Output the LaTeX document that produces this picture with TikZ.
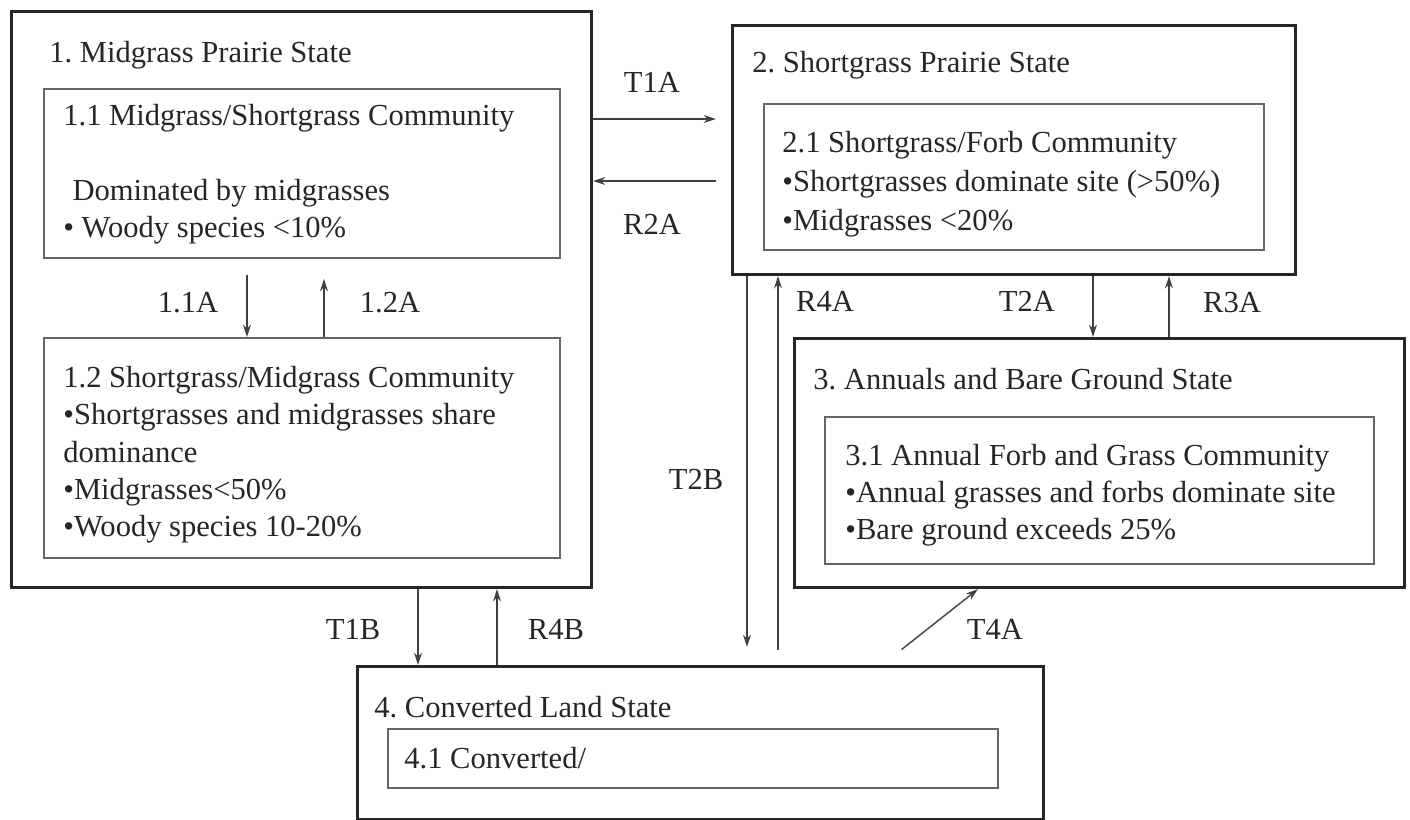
\documentclass[tikz,border=0pt]{standalone}
\usepackage{fontspec}
\setmainfont{Liberation Serif}
\frenchspacing
\usetikzlibrary{arrows.meta}

\begin{document}
\begin{tikzpicture}[x=0.02cm,y=-0.02cm,
			every node/.style={
				font=\fontsize{17.4}{21.3}\selectfont,
				text=black!85
			},
			statebox/.style={draw=black!85,line width=1.8pt,anchor=north west,inner sep=0pt},
			commbox/.style={draw=black!60,line width=1.1pt,anchor=north west,inner sep=0pt},
			txt/.style={anchor=base west,align=left,inner sep=0pt},
			lbl/.style={anchor=base,inner sep=0pt},
			arr/.style={-{Stealth[length=7pt,width=4.5pt]},draw=black!75,line width=0.8pt}]
			
			\useasboundingbox (0,0) rectangle (1410,820);
			
			\node[statebox,minimum width=11.6cm,minimum height=11.52cm](s1) at (10,10){};
			
			\node[commbox,minimum width=10.32cm,minimum height=3.38cm](c11) at (43,88){};
			
			\node[commbox,minimum width=10.32cm,minimum height=4.4cm](c12) at (43,337){};
			
			\node[statebox,minimum width=11.26cm,minimum height=4.98cm](s2) at (731,24){};
			
			\node[commbox,minimum width=10cm,minimum height=2.92cm](c21) at (763,103){};
			
			\node[statebox,minimum width=12.2cm,minimum height=4.98cm](s3) at (793,337){};
			
			\node[commbox,minimum width=10.98cm,minimum height=2.94cm](c31) at (824,416){};
			
			\node[statebox,minimum width=13.72cm,minimum height=3.06cm](s4) at (356,665){};
			
			\node[commbox,minimum width=12.2cm,minimum height=1.18cm](c41) at (387,728){};
			
			\node[txt](t1) at (49,63){1. Midgrass Prairie State};
			
			\node[txt](t11) at (63,238){1.1 Midgrass/Shortgrass Community\\[21.3pt]\hspace{0.3em}Dominated by midgrasses\\• Woody species <10\%};
			
			\node[txt](t12) at (63,537){1.2 Shortgrass/Midgrass Community\\•Shortgrasses and midgrasses share\\dominance\\•Midgrasses<50\%\\•Woody species 10-20\%};
			
			\node[txt](t2) at (752,73){2. Shortgrass Prairie State};
			
			\node[txt,font=\fontsize{17.4}{22.2}\selectfont](t21) at (782,231){2.1 Shortgrass/Forb Community\\•Shortgrasses dominate site (>50\%)\\•Midgrasses <20\%};
			
			\node[txt](t3) at (813,390){3. Annuals and Bare Ground State};
			
			\node[txt](t31) at (845,540){3.1 Annual Forb and Grass Community\\•Annual grasses and forbs dominate site\\•Bare ground exceeds 25\%};
			
			\node[txt](t4) at (374,717){4. Converted Land State};
			
			\node[txt](t41) at (404,768){4.1 Converted/};
			
			\draw[arr,shorten >=0.3cm](s1.east |- 0,119)--(s2.west |- 0,119);
			
			\draw[arr,shorten <=0.3cm](s2.west |- 0,181)--(s1.east |- 0,181);
			
			\draw[arr,shorten <=0.32cm](c11.south -| 247,0)--(c12.north -| 247,0);
			
			\draw[arr,shorten >=0.4cm](c12.north -| 324,0)--(c11.south -| 324,0);
			
			\draw[arr](s2.south -| 1093,0)--(s3.north -| 1093,0);
			
			\draw[arr](s3.north -| 1169,0)--(s2.south -| 1169,0);
			
			\draw[arr,shorten >=0.36cm](s2.south -| 747,0)--(s4.north -| 747,0);
			
			\draw[arr,shorten <=0.3cm](s4.north -| 778,0)--(s2.south -| 778,0);
			
			\draw[arr](s1.south -| 418,0)--(s4.north -| 418,0);
			
			\draw[arr](s4.north -| 497,0)--(s1.south -| 497,0);
			
			\draw[arr,shorten <=0.5cm](s4.north -| 882,0)--(s3.south -| 978,0);
			
			\node[lbl](l1) at (652,93){T1A};
			
			\node[lbl](l2) at (652,235){R2A};
			
			\node[lbl](l3) at (188,313){1.1A};
			
			\node[lbl](l4) at (390,313){1.2A};
			
			\node[lbl](l5) at (825,312){R4A};
			
			\node[lbl](l6) at (1027,312){T2A};
			
			\node[lbl](l7) at (1232,313){R3A};
			
			\node[lbl](l8) at (696,490){T2B};
			
			\node[lbl](l9) at (353,640){T1B};
			
			\node[lbl](l10) at (556,640){R4B};
			
			\node[lbl](l11) at (995,640){T4A};
			
		\end{tikzpicture}
\end{document}
